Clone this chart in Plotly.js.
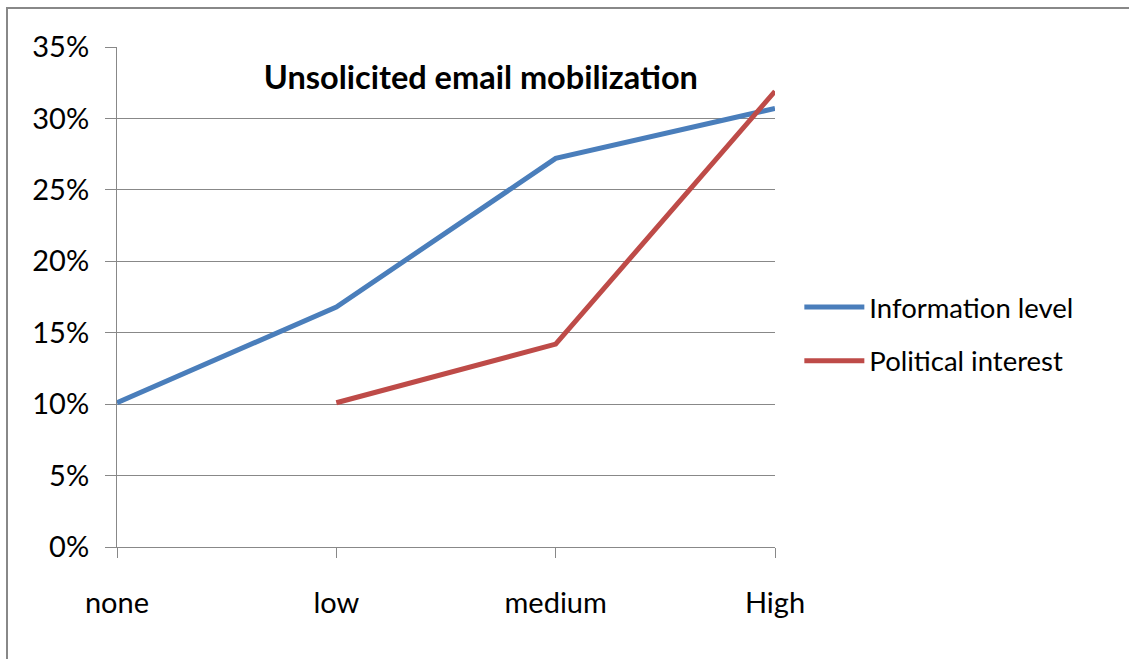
<!DOCTYPE html>
<html>
<head>
<meta charset="utf-8">
<script src="https://cdn.plot.ly/plotly-3.0.1.min.js"></script>
<style>
html,body{margin:0;padding:0;background:#fff;}
#frame{position:absolute;left:6px;top:7px;width:1123px;height:652px;border-top:2px solid #888;border-left:2px solid #888;box-sizing:border-box;pointer-events:none;z-index:5;}
#chart{position:absolute;left:0;top:0;width:1129px;height:659px;}
</style>
</head>
<body>
<div id="chart"></div>
<div id="frame"></div>
<script>
const categories = ["none", "low", "medium", "High"];
const informationLevel = [0.101, 0.168, 0.272, 0.307];
const politicalInterest = [null, 0.101, 0.142, 0.319];
const seriesNames = ["Information level", "Political interest"];
const titleText = "Unsolicited email mobilization";

const FONT = 'Lato, "Open Sans", sans-serif';

const traces = [
  {x: categories, y: informationLevel, name: seriesNames[0], type: 'scatter', mode: 'lines',
   legendgroup: 'a', line: {color: '#4A7EBB', width: 5}, connectgaps: false},
  {x: categories, y: politicalInterest, name: seriesNames[1], type: 'scatter', mode: 'lines',
   legendgroup: 'b', line: {color: '#BE4B48', width: 5}, connectgaps: false}
];

const layout = {
  width: 1129, height: 659,
  margin: {l: 117, r: 354, t: 47, b: 112},
  paper_bgcolor: '#fff', plot_bgcolor: '#fff',
  font: {family: FONT, size: 29, color: '#000'},
  title: {text: titleText, font: {family: FONT, size: 32.5, color: '#000', weight: 'bold'},
    xref: 'paper', yref: 'paper', x: 0.553, y: 0.938, xanchor: 'center', yanchor: 'middle'},
  showlegend: true,
  legend: {x: 1.037, y: 0.426, xanchor: 'left', yanchor: 'middle', font: {family: FONT, size: 27.5, color: '#000'},
    traceorder: 'grouped', tracegroupgap: 15, itemwidth: 60, bgcolor: 'rgba(0,0,0,0)'},
  xaxis: {type: 'category', categoryarray: categories, range: [0, 3],
    showgrid: false, zeroline: false, showline: true, linecolor: '#888', linewidth: 1,
    ticks: 'outside', ticklen: 10, tickcolor: '#888', tickwidth: 1,
    ticklabelstandoff: 20, tickfont: {family: FONT, size: 29, color: '#000'}, fixedrange: true},
  yaxis: {range: [0, 0.35], dtick: 0.05, tick0: 0, tickformat: '.0%',
    showgrid: true, gridcolor: '#888', gridwidth: 1, zeroline: false,
    showline: true, linecolor: '#888', linewidth: 1,
    ticks: 'outside', ticklen: 11, tickcolor: '#888', tickwidth: 1,
    ticklabelstandoff: 10, tickfont: {family: FONT, size: 29, color: '#000'}, fixedrange: true}
};

Plotly.newPlot('chart', traces, layout, {displayModeBar: false, staticPlot: true});
</script>
</body>
</html>
